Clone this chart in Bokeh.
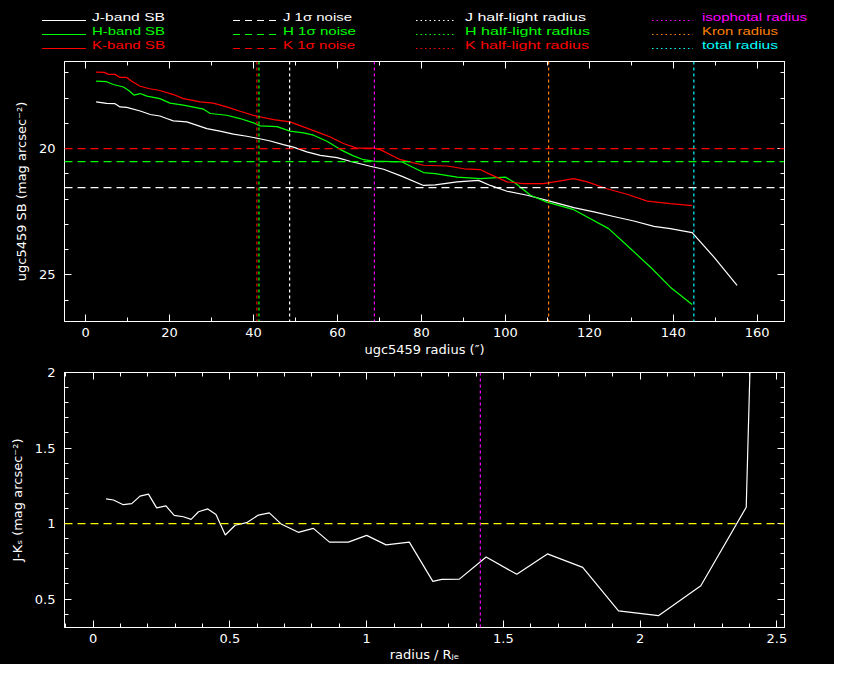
from bokeh.plotting import figure
from bokeh.layouts import column
from bokeh.models import (Range1d, LinearAxis, SingleIntervalTicker, Span, Div,
                          NumeralTickFormatter, CustomJSTickFormatter)
from bokeh.embed import file_html
from bokeh.resources import INLINE

FONT = "DejaVu Sans"

# ---------------- data ----------------
j_r = [2.5, 5, 7, 8.2, 9.8, 13, 15.4, 17.7, 19.3, 20.9, 24.1, 25.7, 28.9, 32, 35.2, 38.4, 41.2,
       44, 47.1, 49.5, 52.7, 55.9, 59.9, 63, 67.8, 71, 75.4, 80.5, 83.3, 88.5, 93.6, 96.4, 100.4,
       105.2, 109.9, 116.3, 121.1, 125.8, 130.6, 135.4, 139.3, 144.5, 149.7, 155.2]
j_sb = [18.15, 18.21, 18.22, 18.35, 18.37, 18.51, 18.65, 18.71, 18.81, 18.9, 18.94, 19.03, 19.21,
        19.31, 19.43, 19.51, 19.6, 19.7, 19.84, 19.94, 20.13, 20.27, 20.36, 20.5, 20.7, 20.82, 21.1,
        21.46, 21.44, 21.32, 21.26, 21.46, 21.69, 21.85, 22.05, 22.34, 22.51, 22.69, 22.87, 23.08,
        23.17, 23.33, 24.3, 25.42]

h_r = [2.5, 5, 6.6, 9, 10.2, 11.5, 13, 14.6, 17.7, 20.1, 23.3, 28.1, 29.7, 33.6, 36.8, 40, 41.6,
       45.6, 48.7, 51.9, 54.3, 57.5, 60.7, 63.8, 66.2, 68.6, 75.4, 80.5, 83.3, 88.5, 94, 100, 102,
       106, 109.9, 116.3, 119.5, 124.6, 129, 134.6, 139.3, 144.5]
h_sb = [17.33, 17.35, 17.46, 17.56, 17.69, 17.88, 17.82, 17.92, 18.02, 18.2, 18.28, 18.44, 18.61,
        18.68, 18.81, 18.98, 19.1, 19.13, 19.31, 19.38, 19.47, 19.71, 20.04, 20.29, 20.44, 20.5,
        20.53, 20.95, 20.99, 21.13, 21.19, 21.13, 21.32, 21.85, 22.12, 22.42, 22.71, 23.17, 23.84,
        24.7, 25.49, 26.18]

k_r = [2.5, 4.5, 5.4, 7, 8.2, 9.8, 11, 13, 15, 17.7, 20.9, 23.3, 27.3, 30.4, 33.6, 36.8, 40.8,
       44.8, 48.7, 51.9, 55.1, 58.3, 61.4, 64.6, 68.6, 70.2, 75, 80.5, 86.1, 90.1, 94, 96.4, 100.4,
       104.4, 109.1, 113.1, 116.3, 119.5, 124.2, 129, 133.8, 139.3, 144.5]
k_sb = [16.97, 16.98, 17.06, 17.06, 17.18, 17.18, 17.33, 17.53, 17.62, 17.7, 17.86, 18.02, 18.15,
        18.2, 18.35, 18.52, 18.72, 18.85, 18.94, 19.14, 19.34, 19.54, 19.8, 19.98, 19.98, 20.04,
        20.44, 20.66, 20.69, 20.8, 20.83, 21.02, 21.32, 21.39, 21.39, 21.28, 21.19, 21.32, 21.59,
        21.81, 22.08, 22.18, 22.26]

noise_j, noise_h, noise_k = 21.55, 20.52, 20.0
half_j, half_h, half_k = 48.6, 41.3, 40.8
iso_r, kron_r, total_r = 68.8, 110.3, 144.9

jk_x = [0.047, 0.074, 0.11, 0.141, 0.171, 0.202, 0.232, 0.266, 0.296, 0.33, 0.358, 0.385, 0.419,
        0.449, 0.483, 0.519, 0.561, 0.604, 0.644, 0.689, 0.75, 0.805, 0.864, 0.933, 1.0, 1.071,
        1.156, 1.242, 1.275, 1.339, 1.437, 1.549, 1.661, 1.79, 1.921, 2.067, 2.222, 2.388, 2.403]
jk_y = [1.164, 1.156, 1.125, 1.132, 1.182, 1.195, 1.104, 1.117, 1.054, 1.045, 1.028, 1.078, 1.097,
        1.06, 0.924, 0.989, 1.006, 1.056, 1.071, 0.995, 0.942, 0.968, 0.877, 0.877, 0.922, 0.859,
        0.877, 0.617, 0.63, 0.632, 0.779, 0.664, 0.799, 0.71, 0.422, 0.39, 0.588, 1.108, 2.1]
jk_ref = 1.0

legend_solid = ["J-band SB", "H-band SB", "K-band SB"]
legend_dash = ["J 1\u03c3 noise", "H 1\u03c3 noise", "K 1\u03c3 noise"]
legend_half = ["J half-light radius", "H half-light radius", "K half-light radius"]
legend_rad = ["isophotal radius", "Kron radius", "total radius"]

WHITE, GREEN, RED = "#ffffff", "#00ff00", "#ff0000"
MAGENTA, ORANGE, CYAN, YELLOW = "#ff00ff", "#ff8000", "#00ffff", "#ffff00"
band_colors = [WHITE, GREEN, RED]
rad_colors = [MAGENTA, ORANGE, CYAN]

DASH = "8 5"
DOT = "3 3"
LW = 1.2
W = 834


def style(p):
    p.background_fill_color = "black"
    p.border_fill_color = "black"
    p.outline_line_color = "white"
    p.outline_line_width = 1
    p.grid.visible = False


def style_axis(ax, label=True):
    ax.axis_line_color = "white"
    ax.major_tick_line_color = "white"
    ax.minor_tick_line_color = "white"
    ax.major_tick_in = 7
    ax.major_tick_out = 0
    ax.minor_tick_in = 4
    ax.minor_tick_out = 0
    ax.major_label_text_color = "white"
    ax.major_label_text_font = FONT
    ax.major_label_text_font_size = "13px"
    ax.axis_label_text_color = "white"
    ax.axis_label_text_font = FONT
    ax.axis_label_text_font_size = "13px"
    ax.axis_label_text_font_style = "normal"
    if not label:
        ax.formatter = CustomJSTickFormatter(code="return ''")
        ax.major_label_text_font_size = "0px"
        ax.major_label_standoff = 0


# ---------------- legend strip (inline SVG in a Div) ----------------
rows_py = [20.5, 34.5, 48.5]
cols = [(42, 86, 92, legend_solid, band_colors, None, [73, 73, 73]),
        (233, 277, 283, legend_dash, band_colors, "7 5", [69, 73, 72]),
        (416, 456, 465, legend_half, band_colors, "1.5 3", [121, 125, 124]),
        (652, 693, 702, legend_rad, rad_colors, "1.5 3", [105, 76, 76])]
parts = []
for x0, x1, xt, labels, colors, dash, widths in cols:
    for lab, col, py, tw in zip(labels, colors, rows_py, widths):
        da = "" if dash is None else f' stroke-dasharray="{dash}"'
        parts.append(f'<line x1="{x0}" y1="{py}" x2="{x1}" y2="{py}" stroke="{col}" '
                     f'stroke-width="1.2"{da}/>')
        parts.append(f'<text x="{xt}" y="{py + 0.5}" fill="{col}" font-family="{FONT}" '
                     f'font-size="11px" textLength="{tw}" lengthAdjust="spacingAndGlyphs">{lab}</text>')
legend_svg = (f'<svg xmlns="http://www.w3.org/2000/svg" width="{W}" height="58" '
              f'style="display:block;background:#000">' + "".join(parts) + "</svg>")
leg = Div(text=legend_svg, width=W, height=58, margin=0,
          styles={"background-color": "black", "margin": "0", "padding": "0"})

# ---------------- top panel ----------------
top = figure(width=W, height=308, x_range=Range1d(-5.03, 166.5), y_range=Range1d(26.85, 16.55),
             output_backend="svg", toolbar_location=None,
             min_border_left=64, min_border_right=W - 784, min_border_top=3, min_border_bottom=45)
style(top)
xt_top = SingleIntervalTicker(interval=20, num_minor_ticks=2)
yt_top = SingleIntervalTicker(interval=5, num_minor_ticks=5)
top.xaxis.ticker = xt_top
top.yaxis.ticker = yt_top
top.xaxis.axis_label = "ugc5459 radius (\u2033)"
top.yaxis.axis_label = "ugc5459 SB (mag arcsec\u207b\u00b2)"
for ax in top.xaxis + top.yaxis:
    style_axis(ax)
top.xaxis.major_label_standoff = 6
top.yaxis.major_label_standoff = 9
top.xaxis.axis_label_standoff = 2
top.yaxis.axis_label_standoff = 7
ax_r = LinearAxis(ticker=yt_top)
style_axis(ax_r, label=False)
top.add_layout(ax_r, "right")
ax_t = LinearAxis(ticker=xt_top)
style_axis(ax_t, label=False)
top.add_layout(ax_t, "above")

for lvl, col in zip([noise_j, noise_h, noise_k], band_colors):
    top.add_layout(Span(location=lvl, dimension="width", line_color=col, line_dash=DASH, line_width=LW))
for loc, col in zip([half_j, half_h, half_k], band_colors):
    top.add_layout(Span(location=loc, dimension="height", line_color=col, line_dash=DOT, line_width=LW))
for loc, col in zip([iso_r, kron_r, total_r], rad_colors):
    top.add_layout(Span(location=loc, dimension="height", line_color=col, line_dash=DOT, line_width=LW))

top.line(j_r, j_sb, line_color=WHITE, line_width=LW)
top.line(h_r, h_sb, line_color=GREEN, line_width=LW)
top.line(k_r, k_sb, line_color=RED, line_width=LW)

# ---------------- bottom panel ----------------
bot = figure(width=W, height=298, x_range=Range1d(-0.105, 2.528), y_range=Range1d(0.312, 2.0),
             output_backend="svg", toolbar_location=None,
             min_border_left=64, min_border_right=W - 784, min_border_top=6, min_border_bottom=34)
style(bot)
xt_bot = SingleIntervalTicker(interval=0.5, num_minor_ticks=5)
yt_bot = SingleIntervalTicker(interval=0.5, num_minor_ticks=5)
bot.xaxis.ticker = xt_bot
bot.yaxis.ticker = yt_bot
bot.xaxis.formatter = NumeralTickFormatter(format="0.[0]")
bot.yaxis.formatter = NumeralTickFormatter(format="0.[0]")
bot.xaxis.axis_label = "radius / R\u2c7c\u2091"
bot.yaxis.axis_label = "J-K\u209b (mag arcsec\u207b\u00b2)"
for ax in bot.xaxis + bot.yaxis:
    style_axis(ax)
bot.xaxis.major_label_standoff = 6
bot.yaxis.major_label_standoff = 9
bot.xaxis.axis_label_standoff = 1
bot.yaxis.axis_label_standoff = 7
ax_r2 = LinearAxis(ticker=yt_bot)
style_axis(ax_r2, label=False)
bot.add_layout(ax_r2, "right")
ax_t2 = LinearAxis(ticker=xt_bot)
style_axis(ax_t2, label=False)
bot.add_layout(ax_t2, "above")

bot.add_layout(Span(location=jk_ref, dimension="width", line_color=YELLOW, line_dash=DASH, line_width=LW))
bot.add_layout(Span(location=iso_r / half_j, dimension="height", line_color=MAGENTA, line_dash=DOT, line_width=LW))
bot.line(jk_x, jk_y, line_color=WHITE, line_width=LW)

p = column(leg, top, bot, spacing=0)
p.background = "black"

open("out.html", "w").write(file_html(p, INLINE))
